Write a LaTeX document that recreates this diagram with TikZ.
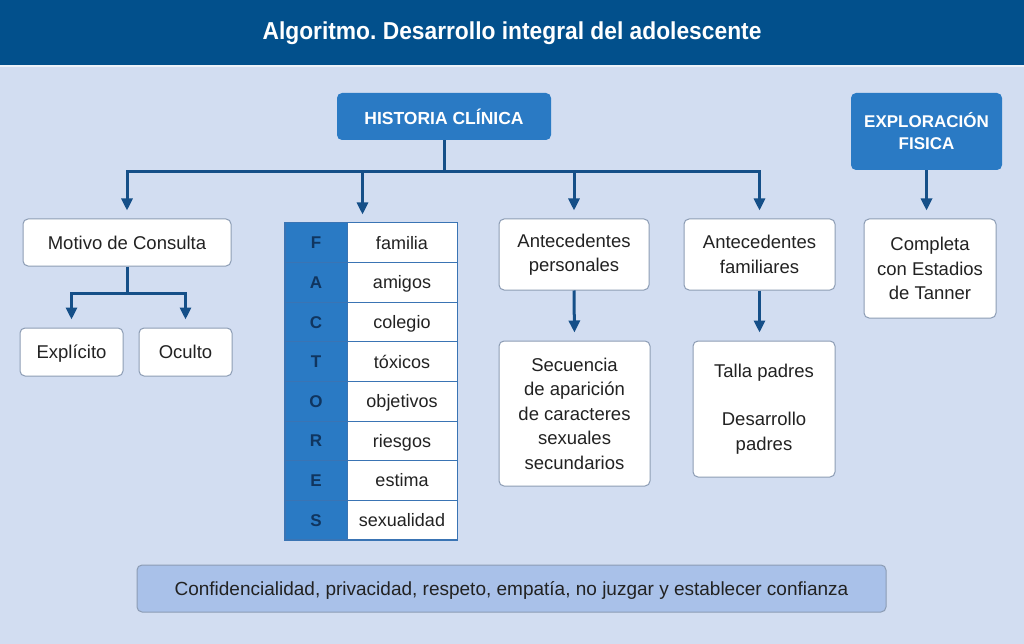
\documentclass[tikz,border=0pt]{standalone}
\usepackage{fontspec}
\setmainfont{Liberation Sans}
\newfontfamily\condfont[FakeStretch=0.93]{Liberation Sans}
\usetikzlibrary{arrows.meta,calc,fit}
\frenchspacing
\definecolor{titleblue}{HTML}{02508C}
\definecolor{bgblue}{HTML}{D2DDF1}
\definecolor{hcblue}{HTML}{2A7AC4}
\definecolor{arrblue}{HTML}{154F88}
\definecolor{boxgray}{HTML}{8C9CB4}
\definecolor{barblue}{HTML}{A9C1E9}
\definecolor{navy}{HTML}{10355F}
\definecolor{tline}{HTML}{3A74B4}
\definecolor{txt}{HTML}{222222}
\newcommand{\bodyf}{\fontsize{18.5}{24.5}\selectfont}
\tikzset{
  wbox/.style={draw=boxgray, fill=white, rounded corners=5pt, line width=1pt,
    font=\bodyf, text=txt, align=center, inner sep=0pt},
  onerow/.style={text height=13.2pt, text depth=0pt},
  bbox/.style={draw=none, fill=hcblue, rounded corners=5pt, text=white,
    font=\fontsize{17.5}{24}\selectfont\bfseries, align=center, inner sep=0pt},
  ln/.style={draw=arrblue, line width=3pt},
  arr/.style={ln, -{Triangle[width=11pt,length=12pt]}, shorten >=8pt},
  letcell/.style={draw=tline, fill=hcblue, line width=1pt, minimum width=62pt,
    minimum height=39.6pt, inner sep=0pt, text=navy, text height=12.2pt, text depth=0pt,
    font=\fontsize{17}{20}\selectfont\bfseries},
  wordcell/.style={draw=tline, fill=white, line width=1pt, minimum width=110pt,
    minimum height=39.6pt, inner sep=0pt, text=txt, text height=12.9pt, text depth=0pt,
    font=\fontsize{18}{22}\selectfont}
}
\begin{document}
\begin{tikzpicture}[x=1pt,y=-1pt]
\useasboundingbox (0,0) rectangle (1024,644);
\fill[bgblue] (0,0) rectangle (1024,644);
\fill[titleblue] (0,0) rectangle (1024,65);
\fill[white!60!bgblue] (0,65) rectangle (1024,67.5);
\node[text=white, font=\condfont\fontsize{24.5}{30}\selectfont\bfseries] (title) at (512,33) {Algoritmo. Desarrollo integral del adolescente};

% top boxes
\node[bbox, minimum width=214pt, minimum height=47pt] (hc) at (444,116.5) {HISTORIA CLÍNICA};
\node[bbox, minimum width=151pt, minimum height=77pt, font=\fontsize{17}{24}\selectfont\bfseries] (ef) at (926.5,131.5) {EXPLORACIÓN\\[-2pt]FISICA};

% second row
\node[wbox, onerow, minimum width=208pt, minimum height=47pt] (mot) at (127,242.5) {Motivo de Consulta};
\node[wbox, onerow, minimum width=103pt, minimum height=48pt] (exp) at (71.5,352) {Explícito};
\node[wbox, onerow, minimum width=93pt, minimum height=48pt] (ocu) at (185.5,352) {Oculto};
\node[wbox, minimum width=150pt, minimum height=71pt] (ap) at (574,254.5) {Antecedentes\\personales};
\node[wbox, minimum width=151pt, minimum height=71pt] (af) at (759.5,254.5) {Antecedentes\\familiares};
\node[wbox, minimum width=151pt, minimum height=145pt] (sec) at (574.5,413.5) {Secuencia\\de aparición\\de caracteres\\sexuales\\secundarios};
\node[wbox, minimum width=142pt, minimum height=136pt] (tal) at (764,409) {Talla padres\\[24pt]Desarrollo\\padres};
\node[wbox, minimum width=132pt, minimum height=99pt] (com) at (930,268.5) {Completa\\con Estadios\\de Tanner};

% FACTORES table
\foreach \l/\w [count=\i from 0] in {F/familia,A/amigos,C/colegio,T/tóxicos,O/objetivos,R/riesgos,E/estima,S/sexualidad}{
  \node[letcell] (l\i) at (316,{242.8+39.6*\i}) {\l};
  \node[wordcell] (w\i) at (402,{242.8+39.6*\i}) {\w};
}
\node[draw=tline, line width=1pt, inner sep=0pt, fit=(l0)(w7)] (tab) {};

% bottom bar
\node[draw=boxgray, fill=barblue, rounded corners=5pt, line width=1pt,
  minimum width=749pt, minimum height=47pt, inner sep=0pt, text=txt,
  text height=13.6pt, text depth=0pt,
  font=\fontsize{19}{22}\selectfont] (bar) at (511.5,588.5)
  {Confidencialidad, privacidad, respeto, empatía, no juzgar y establecer confianza};

% connectors
\coordinate (bus) at (0,172);
\coordinate (tabin) at ([xshift=16pt]w0.north west);
\draw[ln] (hc.south) -- (hc.south |- bus);
\draw[ln, line cap=rect] (mot.north |- bus) -- (af.north |- bus);
\draw[arr] (mot.north |- bus) -- (mot.north);
\draw[arr] (tabin |- bus) -- (tabin);
\draw[arr] (ap.north |- bus) -- (ap.north);
\draw[arr] (af.north |- bus) -- (af.north);
\draw[arr] (ef.south) -- (ef.south |- com.north);

\coordinate (bus2) at (0,293);
\draw[ln] (mot.south) -- (mot.south |- bus2);
\draw[ln, line cap=rect] (exp.north |- bus2) -- (ocu.north |- bus2);
\draw[arr] (exp.north |- bus2) -- (exp.north);
\draw[arr] (ocu.north |- bus2) -- (ocu.north);

\draw[arr] (ap.south) -- (sec.north);
\draw[arr] (af.south) -- (af.south |- tal.north);
\end{tikzpicture}
\end{document}
